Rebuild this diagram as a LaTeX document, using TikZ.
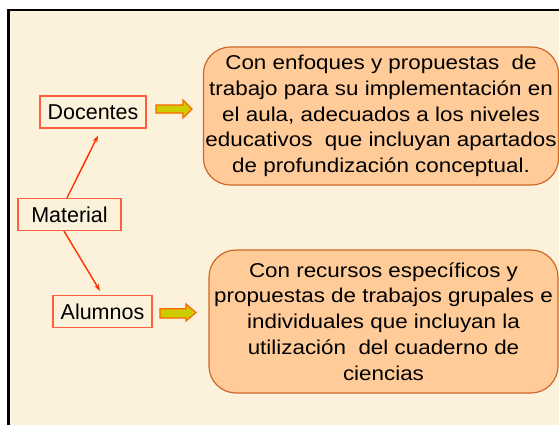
\documentclass[tikz,border=0pt]{standalone}
\usepackage{fontspec}
\setmainfont{Liberation Sans}
\newfontfamily\widesans[FakeStretch=1.12]{Liberation Sans}
\usetikzlibrary{arrows.meta}
\definecolor{cream}{RGB}{252,241,218}
\definecolor{lblborder}{RGB}{255,96,64}
\definecolor{connred}{RGB}{255,51,0}
\definecolor{peach}{RGB}{255,204,153}
\definecolor{peachborder}{RGB}{205,105,40}
\definecolor{arrowfill}{RGB}{204,204,0}
\definecolor{arroworange}{RGB}{255,102,0}
\begin{document}
\begin{tikzpicture}[x=1pt,y=1pt,
  lbl/.style={draw=lblborder, line width=1.2pt, fill=none, inner xsep=7pt,
    minimum height=32pt, font=\fontsize{21.5}{26}\selectfont},
  conn/.style={draw=connred, line width=1.4pt, -{Stealth[length=7pt,width=5pt]}},
  infobox/.style={draw=peachborder, line width=1.2pt, fill=peach, rounded corners=27pt,
    align=center, inner xsep=2pt, inner ysep=0pt,
    font=\widesans\fontsize{20}{25.8}\selectfont},
  blockarrow/.style={draw=arroworange, fill=arrowfill, line width=1.2pt, line join=miter}
]
\useasboundingbox (0,0) rectangle (559,424);
\fill[white] (0,0) rectangle (559,424);
\draw[black, line width=2.5pt, fill=cream] (8.7,414) rectangle (580,-20);

% label nodes (y = 424 - pixel row)
\node[lbl, minimum width=106pt] (doc) at (93,312) {Docentes};
\node[lbl, minimum width=103pt] (mat) at (69.5,209.5) {Material};
\node[lbl, minimum width=99pt] (alu) at (102.5,112.5) {Alumnos};

% info boxes
\node[infobox, minimum width=354pt, minimum height=138pt] (box1) at (381,308)
  {Con enfoques y propuestas\ \ de\\
   trabajo para su implementación en\\
   el aula, adecuados a los niveles\\
   educativos\ \ que incluyan apartados\\
   de profundización conceptual.};
\node[infobox, minimum width=349pt, minimum height=143pt] (box2) at (383.5,102.5)
  {Con recursos específicos y\\
   propuestas de trabajos grupales e\\
   individuales que incluyan la\\
   utilización\ \ del cuaderno de\\
   ciencias};

% connectors
\draw[conn] ([xshift=-2.5pt]mat.north) -- ([xshift=5pt,yshift=-7pt]doc.south);
\draw[conn] ([xshift=-5.5pt]mat.south) -- ([xshift=-2.5pt,yshift=4pt]alu.north);

% block arrows
\draw[blockarrow] (156,319) -- (183,319) -- (183,324) -- (192,315) -- (183,306)
  -- (183,311) -- (156,311) -- cycle;
\draw[blockarrow] (160,115.3) -- (186,115.3) -- (186,120) -- (196,111.5) -- (186,103)
  -- (186,106) -- (160,106) -- cycle;
\end{tikzpicture}
\end{document}
